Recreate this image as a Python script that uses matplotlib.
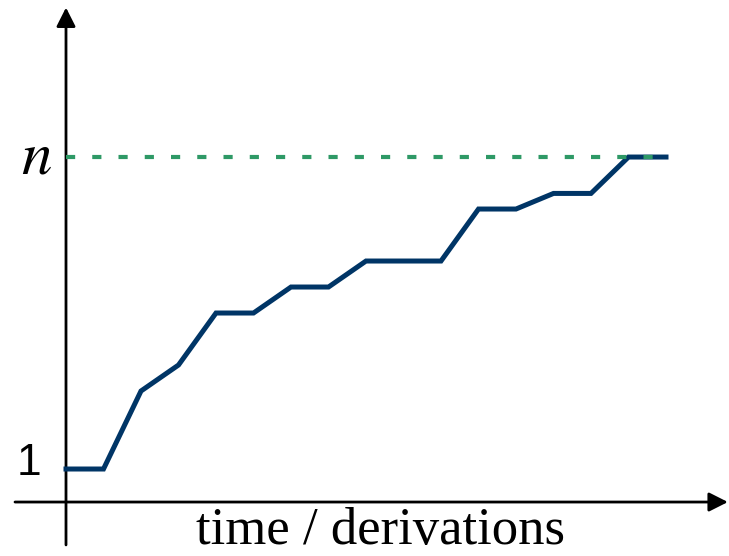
import matplotlib
matplotlib.use("Agg")
import matplotlib.pyplot as plt

# step-wise growth from 1 up to n
steps = list(range(17))
level = [1, 1, 4, 5, 7, 7, 8, 8, 9, 9, 9, 11, 11, 11.6, 11.6, 13, 13]
n_level = 13
x_label = "time / derivations"

BLUE = "#003566"
GREEN = "#2e9966"

plt.rcParams["mathtext.fontset"] = "stix"

fig = plt.figure(figsize=(7.29, 5.56), dpi=100)
ax = fig.add_axes([0, 0, 1, 1])
ax.set_xlim(-1.76, 17.68)
ax.set_ylim(-2.346, 19.04)
ax.axis("off")

# axes with arrow heads
arrow = dict(arrowstyle="-|>,head_length=1.15,head_width=0.58", lw=2.0,
             color="black", shrinkA=0, shrinkB=0)
ax.annotate("", xy=(0, 18.75), xytext=(0, -1.92), arrowprops=arrow)
ax.annotate("", xy=(17.65, -0.27), xytext=(-1.36, -0.27), arrowprops=arrow)

ax.plot(steps, level, color=BLUE, lw=3.6, solid_joinstyle="miter", zorder=3)
ax.plot([steps[0], steps[-1]], [n_level, n_level], color=GREEN, lw=3.0,
        linestyle=(0, (2.2, 4.1)), zorder=4)

ax.text(-0.8, n_level, r"$n$", fontsize=44, ha="center", va="center")
ax.text(-1.0, 1.2, "1", fontsize=32, family="Liberation Sans",
        ha="center", va="center")
ax.text(8.4, -0.45, x_label, fontsize=38, family="Liberation Serif",
        ha="center", va="top")

fig.savefig("out.png", dpi=100)
